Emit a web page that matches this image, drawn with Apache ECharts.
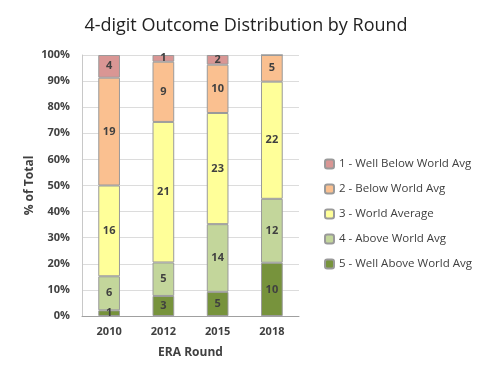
<!DOCTYPE html>
<html>
<head>
<meta charset="utf-8">
<script src="https://cdn.jsdelivr.net/npm/echarts@6/dist/echarts.min.js"></script>
<style>html,body{margin:0;padding:0;background:#fff}#c{width:483px;height:381px}</style>
</head>
<body>
<div id="c"></div>
<script>
const categories = ['2010', '2012', '2015', '2018'];
const seriesNames = ['1 - Well Below World Avg', '2 - Below World Avg', '3 - World Average', '4 - Above World Avg', '5 - Well Above World Avg'];
const s1 = [4, 1, 2, 0];
const s2 = [19, 9, 10, 5];
const s3 = [16, 21, 23, 22];
const s4 = [6, 5, 14, 12];
const s5 = [1, 3, 5, 10];
const yTicks = [0, 10, 20, 30, 40, 50, 60, 70, 80, 90, 100];
const colors = ['#D99694', '#FAC090', '#FFFF99', '#C3D69B', '#77933C'];

const counts = [s5, s4, s3, s2, s1];
const names = [seriesNames[4], seriesNames[3], seriesNames[2], seriesNames[1], seriesNames[0]];
const cols = [colors[4], colors[3], colors[2], colors[1], colors[0]];
const totals = categories.map((_, i) => counts.reduce((a, s) => a + s[i], 0));

const font = '"Open Sans", "Liberation Sans", sans-serif';
const series = counts.map((arr, k) => ({
  name: names[k],
  type: 'bar',
  stack: 'total',
  barWidth: '40%',
  data: arr.map((v, i) => ({ value: v / totals[i] * 100, count: v })),
  itemStyle: { color: cols[k], borderColor: '#9a9a9a', borderWidth: 1 },
  label: {
    show: true, position: 'inside', fontFamily: font, fontSize: 11, fontWeight: 'bold', color: '#404040',
    formatter: p => p.data.count > 0 ? String(p.data.count) : ''
  }
}));

const chart = echarts.init(document.getElementById('c'));
chart.setOption({
  animation: false,
  title: { text: '4-digit Outcome Distribution by Round', left: 241, top: 12, textAlign: 'center',
    textStyle: { fontFamily: font, fontSize: 18, fontWeight: 'normal', color: '#222' } },
  legend: {
    orient: 'vertical', left: 319, top: 153, itemWidth: 9, itemHeight: 9, itemGap: 13,
    data: seriesNames,
    textStyle: { fontFamily: font, fontSize: 11.5, color: '#404040' }
  },
  grid: { left: 82, right: 184, top: 55, bottom: 65 },
  xAxis: {
    type: 'category', data: categories,
    name: 'ERA Round', nameLocation: 'middle', nameGap: 31,
    nameTextStyle: { fontFamily: font, fontSize: 12, fontWeight: 'bold', color: '#404040' },
    axisLine: { lineStyle: { color: '#a0a0a0' } }, axisTick: { show: false },
    axisLabel: { fontFamily: font, fontSize: 11, fontWeight: 'bold', color: '#404040', margin: 10 }
  },
  yAxis: {
    type: 'value', min: 0, max: 100, interval: 10,
    name: '% of Total', nameLocation: 'middle', nameGap: 46,
    nameTextStyle: { fontFamily: font, fontSize: 12, fontWeight: 'bold', color: '#404040' },
    axisLine: { show: true, lineStyle: { color: '#c8c8c8' } }, axisTick: { show: false },
    axisLabel: { fontFamily: font, fontSize: 11, fontWeight: 'bold', color: '#404040', margin: 12,
      formatter: v => yTicks.includes(v) ? v + '%' : '' },
    splitLine: { lineStyle: { color: '#dcdcdc' } }
  },
  series: series
});
</script>
</body>
</html>
